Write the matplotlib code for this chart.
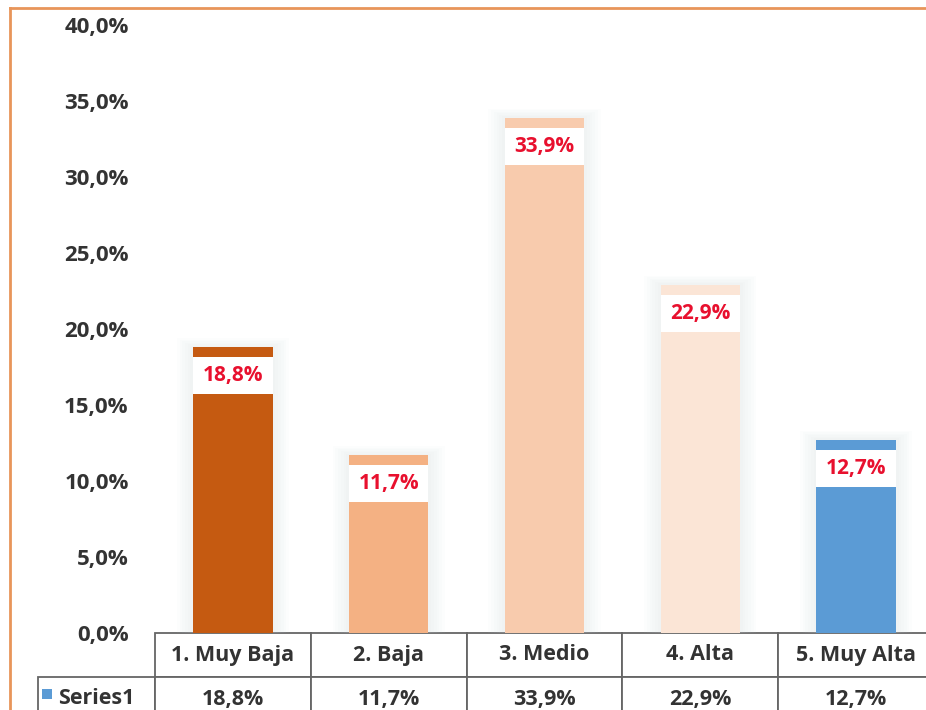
import matplotlib
matplotlib.use("Agg")
import matplotlib.pyplot as plt
from matplotlib.patches import Rectangle
from matplotlib.lines import Line2D
from matplotlib.ticker import FuncFormatter, MultipleLocator

# datos
categories = ['1. Muy Baja', '2. Baja', '3. Medio', '4. Alta', '5. Muy Alta']
values = [18.8, 11.7, 33.9, 22.9, 12.7]
bar_colors = ['#C55A11', '#F4B183', '#F8CBAD', '#FBE5D6', '#5B9BD5']
series_name = 'Series1'

plt.rcParams['font.family'] = ['Open Sans', 'DejaVu Sans']

W, H = 926, 710
fig = plt.figure(figsize=(W / 100, H / 100), dpi=100)
fig.patch.set_facecolor('white')

# ejes: el área de trazado se sale por la derecha (imagen recortada)
ax_l, ax_r, ax_t, ax_b = 155, 934, 25, 633
ax = fig.add_axes([ax_l / W, 1 - ax_b / H, (ax_r - ax_l) / W, (ax_b - ax_t) / H])
ax.set_facecolor('none')

x = list(range(len(categories)))
bar_w = 0.51

# sombra suave alrededor de las barras
for k in range(1, 7):
    ax.bar(x, [v + 0.1 * k for v in values], width=bar_w + 0.035 * k,
           color='#c9d1da', alpha=0.045, zorder=1, linewidth=0)

ax.bar(x, values, width=bar_w, color=bar_colors, zorder=2, linewidth=0)

# etiquetas de datos con caja blanca
def pct(v):
    return f"{v:.1f}%".replace('.', ',')

box_h = 2.45
for xi, v in zip(x, values):
    top = v - 0.65
    ax.add_patch(Rectangle((xi - bar_w / 2, top - box_h), bar_w, box_h,
                           facecolor='white', edgecolor='none', zorder=3))
    ax.text(xi, top - box_h / 2, pct(v), ha='center', va='center',
            color='#E8102E', fontsize=15, fontweight='bold', zorder=4)

ax.set_xlim(-0.5, len(categories) - 0.5)
ax.set_ylim(0, 40)
ax.yaxis.set_major_locator(MultipleLocator(5))
ax.yaxis.set_major_formatter(FuncFormatter(lambda v, p: pct(v)))
ax.set_xticks([])
ax.tick_params(axis='y', length=0, pad=19, labelsize=16, labelcolor='#333333')
for lab in ax.get_yticklabels():
    lab.set_fontweight('bold')
for s in ax.spines.values():
    s.set_visible(False)

# tabla de datos (primera columna = nombre de la serie)
ax_w_px = ax_r - ax_l
ax_h_px = ax_b - ax_t
row_h = 44 / ax_h_px
lab_w = (ax_l - 38) / ax_w_px
tbl = ax.table(cellText=[[series_name] + [pct(v) for v in values]],
               colLabels=[''] + categories,
               colWidths=[lab_w] + [1 / len(categories)] * len(categories),
               cellLoc='center',
               bbox=[-lab_w, -2 * row_h, 1 + lab_w, 2 * row_h])
tbl.auto_set_font_size(False)
tbl.set_fontsize(15.5)
for (r, c), cell in tbl.get_celld().items():
    cell.set_edgecolor('#666666')
    cell.set_linewidth(1.3)
    cell.get_text().set_fontweight('bold')
    cell.get_text().set_color('#333333')
tbl[(0, 0)].visible_edges = ''
tbl[(1, 0)]._loc = 'right'
tbl[(1, 0)].PAD = 0.07

# cuadrado de leyenda azul
sq = 10
ax.add_patch(Rectangle(((42 - ax_l) / ax_w_px, -(699 - ax_b) / ax_h_px),
                       sq / ax_w_px, sq / ax_h_px, transform=ax.transAxes,
                       facecolor='#5B9BD5', edgecolor='none', clip_on=False, zorder=5))

# borde naranja del gráfico
fig.add_artist(Line2D([10 / W, 10 / W], [0, 1 - 8 / H], transform=fig.transFigure,
                      color='#E8955A', lw=2))
fig.add_artist(Line2D([10 / W, 1], [1 - 8 / H, 1 - 8 / H], transform=fig.transFigure,
                      color='#E8955A', lw=2))

fig.savefig('out.png', dpi=100)
